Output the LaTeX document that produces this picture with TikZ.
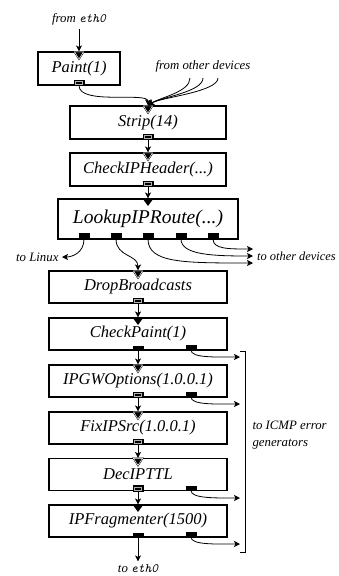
\documentclass[tikz,border=0pt]{standalone}
\usepackage{fontspec}
\setmainfont{Liberation Serif}
\usetikzlibrary{arrows.meta,calc}
\newcommand\agring[1]{\draw[gray!60, line width=0.3pt]
  ($(#1.south west)+(1.5,-1.3)$) rectangle ($(#1.north east)+(-1.5,1.3)$);}
\begin{document}
\begin{tikzpicture}[x=1pt,y=-1pt,
  box/.style={draw, line width=1.1pt, fill=white, minimum height=33, inner sep=0pt,
    font=\fontsize{16.5}{19}\selectfont\itshape},
  pushout/.style={fill=black, draw=black, line width=0.4pt, minimum width=10,
    minimum height=4.5, inner sep=0pt, anchor=south, outer sep=0pt},
  agout/.style={pushout, minimum height=5.5},
  agin/.pic={\draw[line width=0.5pt, double=white, double distance=0.5pt, fill=black]
    (-4.5,0.5) -- (4.5,0.5) -- (0,7.5) -- cycle;},
  pushin/.pic={\fill (-5.5,0) -- (5.5,0) -- (0,7.5) -- cycle;},
  conn/.style={line width=0.8pt, -{Stealth[length=6pt, width=6pt, inset=1.5pt]}},
  lbl/.style={font=\fontsize{12.8}{16.5}\selectfont\itshape},
  brk/.style={line width=0.8pt}
]
\useasboundingbox (0,0) rectangle (338,576);

% boxes
\node[box, minimum width=82] (paint) at (79,68.5) {Paint(1)};
\node[box, minimum width=156] (strip) at (148,122.5) {Strip(14)};
\node[box, minimum width=156] (cih) at (148,169.5) {CheckIPHeader(...)};
\node[box, minimum width=180, minimum height=40, font=\fontsize{19.5}{22}\selectfont\itshape] (lookup) at (148,219) {LookupIPRoute(...)};
\node[box, minimum width=178, minimum height=32] (drop) at (138,287) {DropBroadcasts};
\node[box, minimum width=178, minimum height=32] (cp) at (138,334) {CheckPaint(1)};
\node[box, minimum width=178, minimum height=32] (gw) at (138,381) {IPGWOptions(1.0.0.1)};
\node[box, minimum width=178, minimum height=32] (fix) at (138,428) {FixIPSrc(1.0.0.1)};
\node[box, minimum width=178, minimum height=32] (dec) at (138,474.5) {DecIPTTL};
\node[box, minimum width=178, minimum height=32] (frag) at (138,521) {IPFragmenter(1500)};

% input ports
\pic at (paint.north) {agin};
\pic at (strip.north) {agin};
\pic at (cih.north) {agin};
\pic at (lookup.north) {pushin};
\pic at (drop.north) {agin};
\pic at (cp.north) {pushin};
\pic at (gw.north) {agin};
\pic at (fix.north) {agin};
\pic at (dec.north) {agin};
\pic at (frag.north) {pushin};

% output ports
\node[agout] (paint-o) at (paint.south) {};
\node[agout] (strip-o) at (strip.south) {};
\node[agout] (cih-o) at (cih.south) {};
\node[pushout, minimum height=6] (lk1) at (84,239) {};
\node[pushout, minimum height=6] (lk2) at (116,239) {};
\node[pushout, minimum height=6] (lk3) at (148,239) {};
\node[pushout, minimum height=6] (lk4) at (181,239) {};
\node[pushout, minimum height=6] (lk5) at (213,239) {};
\node[agout] (drop-o) at (drop.south) {};
\node[pushout] (cp-o0) at (cp.south) {};
\node[pushout] (cp-o1) at (191,350) {};
\node[agout] (gw-o0) at (gw.south) {};
\node[pushout] (gw-o1) at (191,397) {};
\node[agout] (fix-o) at (fix.south) {};
\node[agout] (dec-o0) at (dec.south) {};
\node[pushout] (dec-o1) at (191,490.5) {};
\node[pushout] (frag-o0) at (frag.south) {};
\node[pushout] (frag-o1) at (191,537) {};
\agring{paint-o}
\agring{strip-o}
\agring{cih-o}
\agring{drop-o}
\agring{gw-o0}
\agring{fix-o}
\agring{dec-o0}

% labels
\node[lbl, anchor=base] (frometh) at (79,22) {from \texttt{eth0}};
\node[lbl, anchor=base] (others) at (203,69) {from other devices};
\node[lbl, anchor=east] (tolinux) at (62,257) {to Linux};
\node[lbl, anchor=west, inner sep=1pt, font=\fontsize{12.4}{16}\selectfont\itshape] (toother) at (256,256) {to other devices};
\node[lbl, anchor=base west, align=left] (icmp) at (249,446) {to ICMP error\\generators};
\node[lbl] (toeth) at (138,569) {to \texttt{eth0}};

% free ends
\coordinate (oda) at (190,78);
\coordinate (odb) at (203,78);
\coordinate (odc) at (218,78);
\coordinate (od3) at (253,263);
\coordinate (od4) at (253,256);
\coordinate (od5) at (253,249);
\coordinate (ic1) at (240,357);
\coordinate (ic2) at (240,404);
\coordinate (ic3) at (240,498);
\coordinate (ic4) at (240,544);

% connectors
\draw[conn, shorten <=1pt] (frometh.south) -- (paint.north);
\draw[conn] (paint-o.south) .. controls +(0,20) and +(0,-14) .. (strip.north);
\draw[conn] (oda) .. controls +(0,14) and +(12,-8) .. (strip.north);
\draw[conn] (odb) .. controls +(0,14) and +(12,-8) .. (strip.north);
\draw[conn] (odc) .. controls +(0,14) and +(12,-8) .. (strip.north);
\draw[conn] (strip-o.south) -- (cih.north);
\draw[conn] (cih-o.south) -- (lookup.north);
\draw[conn] (lk1.south) .. controls +(0,14) and +(10,0) .. (tolinux.east);
\draw[conn] (lk2.south) .. controls +(0,18) and +(0,-16) .. (drop.north);
\draw[conn] (lk3.south) .. controls +(0,24) and +(-70,0) .. (od3);
\draw[conn] (lk4.south) .. controls +(0,16) and +(-40,0) .. (od4);
\draw[conn] (lk5.south) .. controls +(0,10) and +(-25,0) .. (od5);
\draw[conn] (drop-o.south) -- (cp.north);
\draw[conn] (cp-o0.south) -- (gw.north);
\draw[conn] (gw-o0.south) -- (fix.north);
\draw[conn] (fix-o.south) -- (dec.north);
\draw[conn] (dec-o0.south) -- (frag.north);
\draw[conn] (frag-o0.south) -- (toeth.north);
\draw[conn] (cp-o1.south) .. controls +(0,8) and +(-25,0) .. (ic1);
\draw[conn] (gw-o1.south) .. controls +(0,8) and +(-25,0) .. (ic2);
\draw[conn] (dec-o1.south) .. controls +(0,8) and +(-25,0) .. (ic3);
\draw[conn] (frag-o1.south) .. controls +(0,8) and +(-25,0) .. (ic4);

% bracket
\draw[brk] (240,351) -- (245,351) -- (245,552) -- (240,552);
\end{tikzpicture}
\end{document}
